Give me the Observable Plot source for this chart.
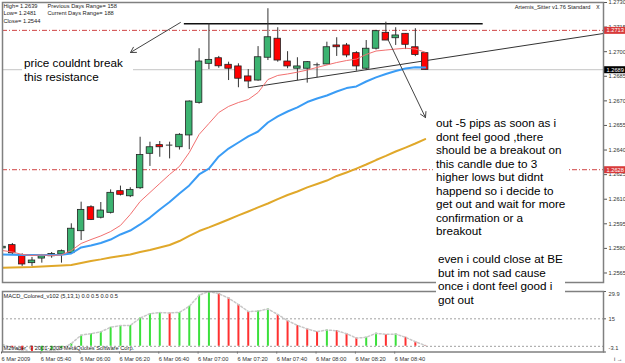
<!DOCTYPE html>
<html><head><meta charset="utf-8">
<script src="https://cdn.jsdelivr.net/npm/d3@7"></script>
<script src="https://cdn.jsdelivr.net/npm/@observablehq/plot@0.6"></script>
<style>
body{margin:0;background:#fff;}
#wrap{position:relative;width:625px;height:363px;overflow:hidden;background:#fff;font-family:"Liberation Sans",Arial,sans-serif;}
#main{position:absolute;left:0;top:0;}
#macd{position:absolute;left:0;top:283px;}
.note{position:absolute;background:#fff;font-size:11.7px;line-height:13.5px;color:#000;white-space:pre;font-family:"Liberation Sans",Arial,sans-serif;}
</style></head><body>
<div id="wrap">
<div id="main"></div>
<div id="macd"></div>
<div class="note" style="left:22px;top:56px;width:109px;height:34px;padding-left:2px;">price couldnt break
this resistance</div>
<div class="note" style="left:433px;top:116px;width:131px;height:127px;padding-left:3px;">out -5 pips as soon as i
dont feel good ,there
should be a breakout on
this candle due to 3
higher lows but didnt
happend so i decide to
get out and wait for more
confirmation or a
breakout</div>
<div class="note" style="left:436px;top:252px;width:127px;height:58px;padding-left:2px;">even i could close at BE
but im not sad cause
once i dont feel good i
got out</div>
</div>
<script>
// ---- data (M5 candles, 6 Mar 2009) ----
const times = ["05:20","05:25","05:30","05:35","05:40","05:45","05:50","05:55",
  "06:00","06:05","06:10","06:15","06:20","06:25","06:30","06:35","06:40","06:45","06:50","06:55",
  "07:00","07:05","07:10","07:15","07:20","07:25","07:30","07:35","07:40","07:45","07:50","07:55",
  "08:00","08:05","08:10","08:15","08:20","08:25","08:30","08:35","08:40","08:45","08:50","08:55"];
const open = [1.2580,1.2582,1.25757,1.2571,1.25738,1.25752,1.25763,1.25771,1.25905,1.26051,1.25987,1.26017,1.26149,1.26118,1.26167,1.26377,1.2643,1.2643,1.26417,1.26489,1.26688,1.26926,1.2696,1.2692,1.2691,1.26849,1.26824,1.26963,1.27079,1.2694,1.26896,1.26896,1.2692,1.26922,1.27038,1.27038,1.26991,1.26896,1.27018,1.27115,1.27082,1.27109,1.27027,1.26991];
const high = [1.2583,1.2583,1.25767,1.25745,1.25763,1.25775,1.2579,1.2595,1.26082,1.2606,1.2608,1.26157,1.2618,1.2617,1.26478,1.26448,1.26452,1.26448,1.2650,1.2670,1.27018,1.2717,1.26971,1.26936,1.26926,1.26891,1.27031,1.27262,1.27146,1.2700,1.26963,1.2694,1.2693,1.27058,1.27085,1.2705,1.2700,1.27068,1.2713,1.2718,1.27146,1.2711,1.2714,1.26995];
const low = [1.2579,1.2576,1.2569,1.2569,1.2571,1.2574,1.2571,1.2577,1.25848,1.2597,1.2598,1.2601,1.2612,1.2611,1.2616,1.2630,1.26356,1.26346,1.2640,1.26402,1.2668,1.26891,1.26899,1.26824,1.2678,1.2678,1.2682,1.26946,1.26936,1.26896,1.26824,1.26808,1.26841,1.2692,1.26971,1.26963,1.26881,1.26885,1.2701,1.27068,1.27038,1.27013,1.2697,1.26889];
const close = [1.2581,1.2577,1.25702,1.25726,1.25752,1.25766,1.25783,1.2592,1.26035,1.25974,1.26031,1.26139,1.26127,1.26157,1.2637,1.26417,1.26417,1.2643,1.26493,1.26696,1.2694,1.2695,1.26911,1.26896,1.26835,1.26818,1.26966,1.27088,1.26946,1.2691,1.2691,1.26936,1.2692,1.27027,1.27027,1.26977,1.2691,1.27018,1.27125,1.27068,1.27099,1.27042,1.2698,1.26889];
const maFast = [1.25787,1.25778,1.25763,1.25757,1.25760,1.25757,1.25760,1.25787,1.25830,1.25854,1.25876,1.25903,1.25940,1.26007,1.26086,1.26141,1.26196,1.26251,1.26300,1.26385,1.26495,1.26562,1.26629,1.26666,1.26690,1.26708,1.26751,1.26830,1.26855,1.26864,1.26875,1.26888,1.26904,1.26919,1.26934,1.26946,1.26955,1.26983,1.27004,1.27010,1.27016,1.27021,1.27016,1.26997];
const maMid = [1.25763,1.25761,1.25760,1.25760,1.25760,1.25760,1.25761,1.25769,1.25806,1.25818,1.25833,1.25854,1.25885,1.25909,1.25946,1.25988,1.26037,1.26083,1.26135,1.26184,1.26251,1.26287,1.26361,1.26409,1.26446,1.26483,1.26513,1.26568,1.26605,1.26635,1.26660,1.26693,1.26714,1.26733,1.26757,1.26778,1.26788,1.26818,1.26843,1.26864,1.26882,1.26897,1.26905,1.26903];
const maSlow = [1.25682,1.25683,1.25685,1.25686,1.25690,1.25693,1.25696,1.25699,1.25711,1.25723,1.25733,1.25745,1.25754,1.25763,1.25778,1.25790,1.25805,1.25821,1.25845,1.25876,1.25906,1.25928,1.25952,1.25976,1.26001,1.26025,1.26050,1.26074,1.26101,1.26126,1.26147,1.26172,1.26193,1.26214,1.26242,1.26263,1.26287,1.26312,1.26339,1.26364,1.26391,1.26415,1.26440,1.26467];
const macdValues = [1.0,-0.8,-2.4,-3.1,-2.9,-2.3,-1.5,1.5,6.1,6.9,7.9,10.4,11.3,11.4,15.4,17.8,18.4,18.2,18.5,21.8,27.9,29.9,28.7,26.3,22.8,19.0,19.2,20.4,17.4,14.0,11.4,9.5,8.0,8.9,8.5,6.9,4.5,4.9,7.1,6.5,6.7,4.9,2.5,0.5];
const priceTicks = [1.2565,1.2580,1.2595,1.2610,1.2625,1.2640,1.2655,1.2670,1.2685,1.2700,1.2715,1.2730];
const timeTickAt = ["05:20","05:40","06:00","06:20","06:40","07:00","07:20","07:40","08:00","08:20","08:40"];
const timeTickLabels = ["6 Mar 2009","6 Mar 05:40","6 Mar 06:00","6 Mar 06:20","6 Mar 06:40","6 Mar 07:00","6 Mar 07:20","6 Mar 07:40","6 Mar 08:00","6 Mar 08:20","6 Mar 08:40"];
const macdTicks = [29.9, 15, -3.1];
const macdLevels = [15, 0];
const bid = 1.2689;
const levelLines = [1.2713, 1.2628];
const priceTags = [{p:1.2713,fill:"#d83a3a"},{p:1.2689,fill:"#000"},{p:1.2628,fill:"#d83a3a"}];
const resistance = {p:1.2717, from:18.5, to:48.9};          // in bar units
const trendPts = [{i:25,p:1.2678},{i:61.14,p:1.27111}];
const arrowsData = [{x1:18.1,y1:1.27178,x2:13.02,y2:1.26995},{x1:39.17,y1:1.2708,x2:43.03,y2:1.26598}];
const infoLeft = "High= 1.2639\nLow= 1.2481\nClose= 1.2544";
const infoRight = "Previous Days Range= 158\nCurrent Days Range= 188";
const indName = "Artemis_Sitter v1.76 Standard";
const macdTitle = "MACD_Colored_v102 (5,13,1) 0.0 0.5 0.0 0.5";
const copyright = "M2trader, \u00a9 2001-2008 MetaQuotes Software Corp.";
const xMax = 61.14;

// ---- build ----
const candles = times.map((t,i)=>({i,t,o:open[i],h:high[i],l:low[i],c:close[i],f:maFast[i],m:maMid[i],s:maSlow[i]}));
const bodies = candles.filter(d=>d.o!==d.c);
const dojis = candles.filter(d=>d.o===d.c);
const bars = macdValues.map((v,i)=>({i,v,up: i===0 ? true : v>macdValues[i-1]}));
const font = "Liberation Sans, Arial, sans-serif";
const small = 5.7;

const main = Plot.plot({
  width:625, height:283, marginLeft:2, marginRight:22, marginTop:2, marginBottom:1,
  x:{domain:[0,xMax], axis:null},
  y:{domain:[1.25592,1.2730], axis:null},
  style:{background:"transparent", fontFamily:font, overflow:"visible"},
  marks:[
    Plot.ruleY([bid], {stroke:"#c4c4c4"}),
    Plot.ruleY(levelLines, {stroke:"#d04545", strokeDasharray:"5,2,1,2"}),
    Plot.ruleY([resistance.p], {x1:resistance.from, x2:resistance.to, stroke:"#111", strokeWidth:1.5}),
    Plot.line(trendPts, {x:"i", y:"p", stroke:"#333", strokeWidth:1}),
    Plot.ruleX(candles, {x:"i", y1:"l", y2:"h", stroke:"#333", clip:true}),
    Plot.rect(bodies, {x1:d=>d.i-0.33, x2:d=>d.i+0.33, y1:d=>Math.min(d.o,d.c), y2:d=>Math.max(d.o,d.c),
      fill:d=>d.c>d.o?"#3cb371":"#ff0000", stroke:"#222", strokeWidth:0.8, clip:true}),
    Plot.ruleY(dojis, {y:"o", x1:d=>d.i-0.33, x2:d=>d.i+0.33, stroke:"#333"}),
    Plot.line(candles, {x:"i", y:"s", stroke:"#e0a82a", strokeWidth:2, clip:true}),
    Plot.line(candles, {x:"i", y:"m", stroke:"#3a9cf5", strokeWidth:2, clip:true}),
    Plot.line(candles, {x:"i", y:"f", stroke:"#f27070", strokeWidth:1, clip:true}),
    Plot.arrow(arrowsData, {x1:"x1", y1:"y1", x2:"x2", y2:"y2", stroke:"#444", strokeWidth:1, headLength:9}),
    Plot.axisY(priceTicks, {anchor:"right", tickSize:3, tickPadding:2, tickFormat:d=>d.toFixed(4), fontSize:small, stroke:"#555", fill:"#333"}),
    Plot.ruleY(priceTags, {y:"p", x1:xMax, x2:xMax+2.3, stroke:"fill", strokeWidth:7}),
    Plot.text(priceTags, {x:xMax, y:"p", text:d=>d.p.toFixed(4), dx:3, textAnchor:"start", fill:"white", fontSize:small}),
    Plot.text([infoLeft], {frameAnchor:"top-left", dx:1, dy:0, fontSize:small, lineHeight:1.3, fill:"#222"}),
    Plot.text([infoRight], {frameAnchor:"top-left", dx:45, dy:0, fontSize:small, lineHeight:1.3, fill:"#222"}),
    Plot.text([indName], {frameAnchor:"top-right", dx:-13, dy:2, fontSize:small, fill:"#222"}),
    Plot.text(["x"], {frameAnchor:"top-right", dx:-4, dy:1.5, fontSize:small+1, fill:"#333"}),
    Plot.frame({stroke:"#808080", strokeWidth:1.5})
  ]
});
document.getElementById("main").append(main);

const tickIndex = timeTickAt.map(t=>times.indexOf(t));
const labelOf = new Map(tickIndex.map((k,j)=>[k,timeTickLabels[j]]));
const macdLabelShift = [3, 0, -4];
const macd = Plot.plot({
  width:625, height:80, marginLeft:2, marginRight:22, marginTop:8, marginBottom:11.5,
  x:{domain:[0,xMax], axis:null},
  y:{domain:[-3.1,29.9], axis:null},
  style:{background:"transparent", fontFamily:font, overflow:"visible"},
  marks:[
    Plot.ruleY(macdLevels, {stroke:"#a0a0a0", strokeDasharray:"2,2"}),
    Plot.ruleX(bars, {x:"i", y1:0, y2:"v", stroke:d=>d.up?"#3be03b":"#ff3030", strokeWidth:2, clip:true}),
    Plot.line(bars, {x:"i", y:"v", stroke:"#c8c8c8", strokeDasharray:"2,2", clip:true}),
    Plot.axisX(tickIndex, {anchor:"bottom", tickSize:2, tickPadding:3, tickFormat:d=>labelOf.get(d), textAnchor:"start", dx:-1, fontSize:small, stroke:"#555", fill:"#333"}),
    Plot.ruleY(macdTicks, {x1:xMax, x2:xMax+0.3, stroke:"#555"}),
    ...macdTicks.map((t,j)=>Plot.text([t], {x:xMax, y:d=>d, text:d=>String(d), dx:5, dy:macdLabelShift[j], textAnchor:"start", fontSize:small, fill:"#333"})),
    Plot.text([macdTitle], {frameAnchor:"top-left", dx:1, dy:2, fontSize:small, fill:"#222"}),
    Plot.text([copyright], {frameAnchor:"bottom-left", dx:1, dy:-2, fontSize:small, fill:"#222"}),
    Plot.frame({stroke:"#808080", strokeWidth:1.5})
  ]
});
document.getElementById("macd").append(macd);
</script>
</body></html>
